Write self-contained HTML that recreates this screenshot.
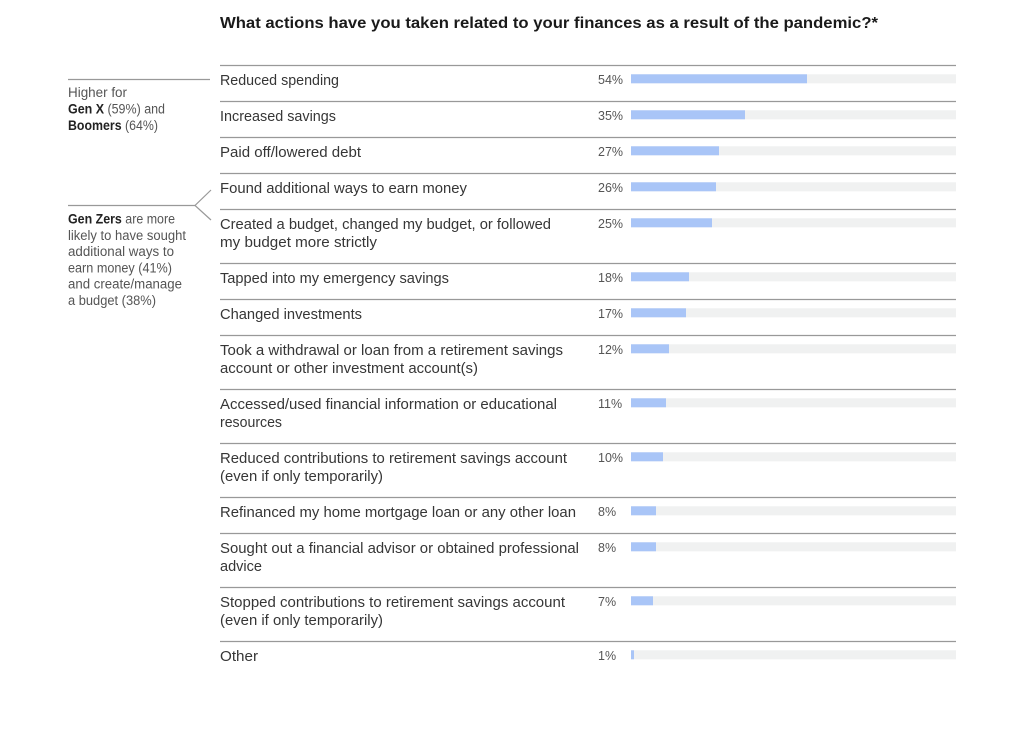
<!DOCTYPE html>
<html><head><meta charset="utf-8"><style>
html,body{margin:0;padding:0;background:#fff;}
svg{display:block;}
text{font-family:"Liberation Sans",sans-serif;}
.lab{font-size:14.5px;fill:#363636;}
.pct{font-size:12.5px;fill:#555;}
.ann{font-size:13.5px;fill:#555;}
.annb{font-weight:bold;fill:#222;}
</style></head><body>
<svg width="1024" height="730" viewBox="0 0 1024 730" xmlns="http://www.w3.org/2000/svg">
<rect width="1024" height="730" fill="#fff"/>
<text x="220" y="28" font-size="15.5" font-weight="bold" fill="#1a1a1a" textLength="658" lengthAdjust="spacingAndGlyphs">What actions have you taken related to your finances as a result of the pandemic?*</text>

<!-- annotations -->
<g stroke="#999" stroke-width="1.2" fill="none">
<line x1="68" y1="79.5" x2="210" y2="79.5"/>
<line x1="68" y1="205.5" x2="195" y2="205.5"/>
<polyline points="211,190 195,205.5 211,220"/>
</g>
<text class="ann" x="68" y="97" textLength="59" lengthAdjust="spacingAndGlyphs">Higher for</text>
<text class="ann" x="68" y="113.5" textLength="97" lengthAdjust="spacingAndGlyphs"><tspan class="annb">Gen X</tspan> (59%) and</text>
<text class="ann" x="68" y="130" textLength="90" lengthAdjust="spacingAndGlyphs"><tspan class="annb">Boomers</tspan> (64%)</text>
<text class="ann" x="68" y="223.5" textLength="107" lengthAdjust="spacingAndGlyphs"><tspan class="annb">Gen Zers</tspan> are more</text>
<text class="ann" x="68" y="239.8" textLength="118" lengthAdjust="spacingAndGlyphs">likely to have sought</text>
<text class="ann" x="68" y="256.1" textLength="106" lengthAdjust="spacingAndGlyphs">additional ways to</text>
<text class="ann" x="68" y="272.4" textLength="104" lengthAdjust="spacingAndGlyphs">earn money (41%)</text>
<text class="ann" x="68" y="288.7" textLength="114" lengthAdjust="spacingAndGlyphs">and create/manage</text>
<text class="ann" x="68" y="305" textLength="88" lengthAdjust="spacingAndGlyphs">a budget (38%)</text>

<!-- divider lines -->
<g stroke="#999" stroke-width="1.2">
<line x1="220" y1="65.5" x2="956" y2="65.5"/>
<line x1="220" y1="101.5" x2="956" y2="101.5"/>
<line x1="220" y1="137.5" x2="956" y2="137.5"/>
<line x1="220" y1="173.5" x2="956" y2="173.5"/>
<line x1="220" y1="209.5" x2="956" y2="209.5"/>
<line x1="220" y1="263.5" x2="956" y2="263.5"/>
<line x1="220" y1="299.5" x2="956" y2="299.5"/>
<line x1="220" y1="335.5" x2="956" y2="335.5"/>
<line x1="220" y1="389.5" x2="956" y2="389.5"/>
<line x1="220" y1="443.5" x2="956" y2="443.5"/>
<line x1="220" y1="497.5" x2="956" y2="497.5"/>
<line x1="220" y1="533.5" x2="956" y2="533.5"/>
<line x1="220" y1="587.5" x2="956" y2="587.5"/>
<line x1="220" y1="641.5" x2="956" y2="641.5"/>
</g>

<!-- tracks -->
<g fill="#f0f1f1">
<rect x="631" y="74.3" width="325" height="9"/>
<rect x="631" y="110.3" width="325" height="9"/>
<rect x="631" y="146.3" width="325" height="9"/>
<rect x="631" y="182.3" width="325" height="9"/>
<rect x="631" y="218.3" width="325" height="9"/>
<rect x="631" y="272.3" width="325" height="9"/>
<rect x="631" y="308.3" width="325" height="9"/>
<rect x="631" y="344.3" width="325" height="9"/>
<rect x="631" y="398.3" width="325" height="9"/>
<rect x="631" y="452.3" width="325" height="9"/>
<rect x="631" y="506.3" width="325" height="9"/>
<rect x="631" y="542.3" width="325" height="9"/>
<rect x="631" y="596.3" width="325" height="9"/>
<rect x="631" y="650.3" width="325" height="9"/>
</g>
<!-- bars -->
<g fill="#a9c5f7">
<rect x="631" y="74.3" width="176" height="9"/>
<rect x="631" y="110.3" width="114" height="9"/>
<rect x="631" y="146.3" width="88" height="9"/>
<rect x="631" y="182.3" width="85" height="9"/>
<rect x="631" y="218.3" width="81" height="9"/>
<rect x="631" y="272.3" width="58" height="9"/>
<rect x="631" y="308.3" width="55" height="9"/>
<rect x="631" y="344.3" width="38" height="9"/>
<rect x="631" y="398.3" width="35" height="9"/>
<rect x="631" y="452.3" width="32" height="9"/>
<rect x="631" y="506.3" width="25" height="9"/>
<rect x="631" y="542.3" width="25" height="9"/>
<rect x="631" y="596.3" width="22" height="9"/>
<rect x="631" y="650.3" width="3" height="9"/>
</g>

<!-- percents -->
<text class="pct" x="598" y="84">54%</text>
<text class="pct" x="598" y="120">35%</text>
<text class="pct" x="598" y="156">27%</text>
<text class="pct" x="598" y="192">26%</text>
<text class="pct" x="598" y="228">25%</text>
<text class="pct" x="598" y="282">18%</text>
<text class="pct" x="598" y="318">17%</text>
<text class="pct" x="598" y="354">12%</text>
<text class="pct" x="598" y="408">11%</text>
<text class="pct" x="598" y="462">10%</text>
<text class="pct" x="598" y="516">8%</text>
<text class="pct" x="598" y="552">8%</text>
<text class="pct" x="598" y="606">7%</text>
<text class="pct" x="598" y="660">1%</text>

<!-- labels -->
<text class="lab" x="220" y="85" textLength="119" lengthAdjust="spacingAndGlyphs">Reduced spending</text>
<text class="lab" x="220" y="121" textLength="116" lengthAdjust="spacingAndGlyphs">Increased savings</text>
<text class="lab" x="220" y="157" textLength="141" lengthAdjust="spacingAndGlyphs">Paid off/lowered debt</text>
<text class="lab" x="220" y="193" textLength="247" lengthAdjust="spacingAndGlyphs">Found additional ways to earn money</text>
<text class="lab" x="220" y="229" textLength="331" lengthAdjust="spacingAndGlyphs">Created a budget, changed my budget, or followed</text>
<text class="lab" x="220" y="247" textLength="157" lengthAdjust="spacingAndGlyphs">my budget more strictly</text>
<text class="lab" x="220" y="283" textLength="229" lengthAdjust="spacingAndGlyphs">Tapped into my emergency savings</text>
<text class="lab" x="220" y="319" textLength="142" lengthAdjust="spacingAndGlyphs">Changed investments</text>
<text class="lab" x="220" y="355" textLength="343" lengthAdjust="spacingAndGlyphs">Took a withdrawal or loan from a retirement savings</text>
<text class="lab" x="220" y="373" textLength="258" lengthAdjust="spacingAndGlyphs">account or other investment account(s)</text>
<text class="lab" x="220" y="409" textLength="337" lengthAdjust="spacingAndGlyphs">Accessed/used financial information or educational</text>
<text class="lab" x="220" y="427" textLength="62" lengthAdjust="spacingAndGlyphs">resources</text>
<text class="lab" x="220" y="463" textLength="347" lengthAdjust="spacingAndGlyphs">Reduced contributions to retirement savings account</text>
<text class="lab" x="220" y="481" textLength="163" lengthAdjust="spacingAndGlyphs">(even if only temporarily)</text>
<text class="lab" x="220" y="517" textLength="356" lengthAdjust="spacingAndGlyphs">Refinanced my home mortgage loan or any other loan</text>
<text class="lab" x="220" y="553" textLength="359" lengthAdjust="spacingAndGlyphs">Sought out a financial advisor or obtained professional</text>
<text class="lab" x="220" y="571" textLength="42" lengthAdjust="spacingAndGlyphs">advice</text>
<text class="lab" x="220" y="607" textLength="345" lengthAdjust="spacingAndGlyphs">Stopped contributions to retirement savings account</text>
<text class="lab" x="220" y="625" textLength="163" lengthAdjust="spacingAndGlyphs">(even if only temporarily)</text>
<text class="lab" x="220" y="661" textLength="38" lengthAdjust="spacingAndGlyphs">Other</text>
</svg>
</body></html>
